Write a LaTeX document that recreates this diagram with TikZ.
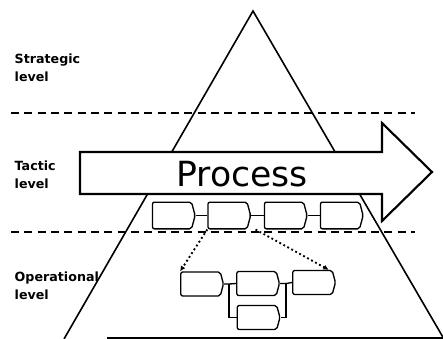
\documentclass[tikz,border=0pt]{standalone}
\usepackage{fontspec}
\setmainfont{DejaVu Sans}
\usetikzlibrary{shapes.symbols,arrows.meta}
\begin{document}
\begin{tikzpicture}[x=0.75pt,y=-0.75pt]
		\tikzset{stepbox/.style = {shape=signal,signal to=east,signal pointer angle=150,draw,line width=1pt,rounded corners=1.5pt,minimum width=32pt,inner sep=0pt,fill=white}}
		\tikzset{level/.style = {anchor=west,align=left,font=\bfseries\fontsize{9.5}{13.5}\selectfont}}
		\tikzset{sep/.style = {dashed,line width=1.3pt,dash pattern=on 6pt off 4pt}}
		\useasboundingbox (0,0) rectangle (443,339);
		% pyramid
		\draw[line width=1.2pt] (64,339) -- (253,11) -- (444,339);
		\draw[line width=1.2pt] (107,338) -- (443,338);
		% level separators
		\draw[sep] (11,113) -- (415,113);
		\draw[sep] (11,232) -- (415,232);
		\node[level] (st) at (10,68) {Strategic\\level};
		\node[level] (ta) at (10,175) {Tactic\\level};
		\node[level] (op) at (10,285.5) {Operational\\level};
		% process arrow
		\draw[line width=1.6pt,fill=white,line join=miter] (80,152) -- (382,152) -- (382,123) -- (432,172)
			-- (382,221) -- (382,194) -- (80,194) -- cycle;
		\node (pr) at (242,174) {\fontsize{26}{30}\selectfont Process};
		% tactic steps
		\node[stepbox,minimum height=20pt] (p1) at (172,215.5) {};
		\node[stepbox,minimum height=20pt] (p2) at (227.5,215.5) {};
		\node[stepbox,minimum height=20pt] (p3) at (284,215.5) {};
		\node[stepbox,minimum height=20pt] (p4) at (340,215.5) {};
		\path[draw,line width=1pt] (p1) edge (p2) (p2) edge (p3) (p3) edge (p4);
		% operational steps
		\node[stepbox,minimum height=18pt] (o1) at (200.5,284) {};
		\node[stepbox,minimum height=18pt] (o2) at (256.5,283.5) {};
		\node[stepbox,minimum height=18pt] (o3) at (312.5,282.5) {};
		\node[stepbox,minimum height=18pt] (o4) at (257,317.5) {};
		\draw[line width=1pt] (o1.east) -- ++(5,0) coordinate (sp) -- (o2.west);
		\draw[line width=1pt] (sp) |- (o4.west);
		\draw[line width=1pt] (o2.east) -- ++(6,0) coordinate (jn) -- (o3.west);
		\draw[line width=1pt] (jn) |- (o4.east);
		% refinement
		\draw[dotted,line width=1.4pt,-{Latex[length=4pt,width=4pt]}] (p2.south west) -- (o1.north west);
		\draw[dotted,line width=1.4pt,-{Latex[length=4pt,width=4pt]}] ([xshift=6pt]p2.south east) -- ([xshift=-3pt]o3.north east);
	\end{tikzpicture}
\end{document}
